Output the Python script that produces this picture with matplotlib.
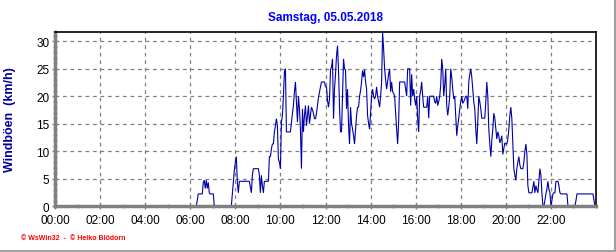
import numpy as np
import matplotlib
matplotlib.use("Agg")
import matplotlib.pyplot as plt
from matplotlib.ticker import MultipleLocator, FixedLocator

# ---- data (wind gusts, km/h), one reading every 160 s starting 00:00 ----
interval_min = 8 / 3

gust_night = [
    0.0, 0.0, 0.0, 0.0, 0.0, 0.0, 0.0, 0.0, 0.0, 0.0, 0.0, 0.0, 0.0, 0.0, 0.0, 0.0, 0.0, 0.0, 0.0, 0.0,
    0.0, 0.0, 0.0, 0.0, 0.0, 0.0, 0.0, 0.0, 0.0, 0.0, 0.0, 0.0, 0.0, 0.0, 0.0, 0.0, 0.0, 0.0, 0.0, 0.0,
    0.0, 0.0, 0.0, 0.0, 0.0, 0.0, 0.0, 0.0, 0.0, 0.0, 0.0, 0.0, 0.0, 0.0, 0.0, 0.0, 0.0, 0.0, 0.0, 0.0,
    0.0, 0.0, 0.0, 0.0, 0.0, 0.0, 0.0, 0.0, 0.0, 0.0, 0.0, 0.0, 0.0, 0.0, 0.0, 0.0, 0.0, 0.0, 0.0, 0.0,
    0.0, 0.0, 0.0, 0.0, 0.0, 0.0, 0.0, 0.0, 0.0, 0.0, 0.0, 0.0, 0.0, 0.0, 0.0, 0.0, 0.0, 0.0, 0.0, 0.0,
    0.0, 0.0, 0.0, 0.0, 0.0, 0.0, 0.0, 0.0, 0.0, 0.0, 0.0, 0.0, 0.0, 0.0, 0.0, 0.0, 0.0, 0.0, 0.0, 0.0,
    0.0, 0.0, 0.0, 0.0, 0.0, 0.0, 0.0, 0.0, 0.0, 0.0, 0.0, 0.0, 0.0, 0.0, 0.0, 0.0, 0.0, 0.0, 0.0, 0.0,
    0.0, 0.0,
]

gust_morning = [
    1.0, 2.2, 2.2, 2.2, 2.2, 2.2, 4.3, 4.7, 3.2, 4.7, 3.2, 4.3, 2.4, 2.2, 2.2, 2.2, 2.2,
    0.0, 0.0, 0.0, 0.0, 0.0, 0.0, 0.0, 0.0, 0.0, 0.0, 0.0, 0.0, 0.0, 0.0, 0.0, 0.0, 0.0, 0.0,
    2.2, 4.5, 6.5, 8.0, 9.0, 4.3, 2.4, 4.5,
    4.5, 4.5, 4.5, 4.5, 4.5, 4.5, 4.5, 4.5, 4.5, 4.5,
    3.5, 2.4, 5.6, 6.8, 6.8, 6.8, 6.8, 6.8, 6.8,
    5.6, 2.4, 5.6, 3.7, 2.4, 4.5, 4.5, 4.5, 4.5, 4.5,
    9.0, 9.0, 10.4, 11.3, 11.3, 13.5, 14.6, 15.9, 14.6, 8.5, 8.0, 6.8,
    15.3, 16.5, 20.0, 24.4, 25.0, 13.5, 13.5, 13.5, 13.5, 13.5,
    15.3, 16.9, 18.3, 20.8, 22.6, 19.0, 15.3, 20.0, 17.7, 14.0, 6.8, 17.7,
    13.5, 16.5, 18.3, 14.6, 16.5, 18.3, 15.0, 16.5, 18.0, 17.5, 16.9, 15.9,
    15.9, 16.9, 18.3, 19.8, 20.8, 21.7, 22.6, 22.6, 22.6, 22.6, 21.7, 21.7,
]

gust_midday = [
    19.2, 18.0, 19.5, 24.8, 25.3, 26.8, 15.9, 21.3, 24.0, 27.4, 29.2, 24.8,
    18.0, 13.5, 13.5, 20.1, 26.8, 25.0, 24.8, 17.7, 21.3, 14.6, 11.3, 18.0,
    15.0, 14.0, 12.8, 11.3, 14.0, 16.5, 18.0, 18.0, 20.0, 21.0, 22.6, 24.7,
    23.5, 24.8, 22.6, 21.3, 16.5, 15.0, 14.0, 17.0, 20.0, 21.3, 20.0, 19.5,
    20.0, 21.7, 20.0, 19.0, 18.0, 20.0, 22.6, 31.6, 28.6, 25.0, 23.0, 21.3,
    22.6, 24.0, 25.0, 20.8, 22.6, 20.8, 20.5, 20.0, 16.9, 14.0, 11.3, 15.3,
    22.6, 22.6, 22.6, 22.6, 22.6, 22.6, 21.3, 20.0, 25.0, 25.0, 25.0, 18.3,
    24.0, 20.0, 21.3, 19.5, 18.3, 20.0, 15.9, 13.5, 20.0, 21.0, 22.6, 20.0,
    18.0, 18.0, 18.0, 18.0, 20.0, 16.0, 20.0, 20.0, 20.0, 20.0, 20.0, 19.0,
    18.7, 20.0, 18.3, 19.0, 20.0, 22.0, 26.8, 25.0, 20.0, 22.0, 25.0, 18.3,
    16.5, 18.0, 20.0, 25.0, 23.5, 21.3, 19.5, 20.0, 16.5, 12.8, 14.6, 16.0,
    17.7, 19.0, 20.0, 18.7, 19.0, 19.5, 20.0, 20.0, 17.7, 22.6, 24.0, 25.0,
    23.5, 21.3, 19.0, 17.7, 14.0, 11.3, 15.3, 20.0, 19.0, 17.7, 16.0, 16.0,
    16.0, 16.0, 19.0, 22.6, 20.0, 14.0, 11.3, 9.0, 12.0, 14.0, 16.9, 16.0,
    14.0, 12.2, 13.5, 12.8, 11.5, 12.0, 12.8, 9.4, 10.5, 11.5, 11.3, 11.3,
    12.2, 14.0, 16.5, 18.0, 15.9, 11.5,
]

gust_evening = [
    6.8, 5.6, 4.7, 6.8, 8.0, 9.0, 7.5, 6.8, 6.8, 6.8, 8.0, 10.0, 11.3, 9.5,
    3.7, 2.4, 2.4, 2.4, 2.4, 3.5, 4.5, 2.4, 3.7, 3.0, 2.4, 4.5, 6.8, 5.6, 2.4,
    0.0, 0.0, 1.0, 2.2, 3.1, 4.5, 3.0, 2.4, 0.0, 1.0, 2.2, 2.4, 2.4,
    4.5, 4.5, 4.5, 3.7, 2.4, 2.2, 2.2, 2.2, 2.2, 2.2, 2.2, 2.2,
    0.0, 0.0, 0.0, 0.0, 0.0, 0.0, 0.0, 0.0, 1.0,
    2.2, 2.2, 2.2, 2.2, 2.2, 2.2, 2.2, 2.2, 2.2, 2.2, 2.2, 2.2, 2.2, 2.2, 2.2, 2.2, 2.2,
    1.0, 0.0,
]

x_tick_labels = ["00:00", "02:00", "04:00", "06:00", "08:00", "10:00",
                 "12:00", "14:00", "16:00", "18:00", "20:00", "22:00"]
y_ticks = [0, 5, 10, 15, 20, 25, 30]

title_text = "Samstag, 05.05.2018"
ylabel_text = "Windböen  (km/h)"
footer_text = "© WsWin32  -  © Heiko Blödorn"

# ---- build series ----
gust = np.array(gust_night + gust_morning + gust_midday + gust_evening)
minutes = np.arange(len(gust)) * interval_min

plt.rcParams['font.family'] = ['Liberation Sans', 'DejaVu Sans']

fig = plt.figure(figsize=(6.16, 2.53), dpi=100)
fig.patch.set_facecolor("white")
ax = fig.add_axes([55 / 616, 1 - 207 / 253, (596 - 55) / 616, (207 - 33) / 253])

ax.plot(minutes, gust, color="#0000A8", lw=0.8, solid_joinstyle="miter")

ax.set_xlim(0, 1440)
ax.set_ylim(0, 31.7)

ax.xaxis.set_major_locator(FixedLocator(np.arange(len(x_tick_labels)) * 120))
ax.set_xticklabels(x_tick_labels)
ax.xaxis.set_minor_locator(MultipleLocator(60))
ax.set_yticks(y_ticks)
ax.yaxis.set_minor_locator(MultipleLocator(1))

ax.grid(True, which="major", color="#808080", linestyle=(0, (3, 3)), linewidth=0.9)
ax.set_axisbelow(True)

for side in ("top", "right"):
    ax.spines[side].set_color("black")
    ax.spines[side].set_linewidth(1.2)
for side in ("left", "bottom"):
    ax.spines[side].set_color("#808080")
    ax.spines[side].set_linewidth(2.5)

ax.tick_params(axis="both", which="major", labelsize=8.5, colors="black",
               length=4, width=1, direction="inout", pad=2)
ax.tick_params(axis="both", which="major", color="#808080")
ax.tick_params(axis="both", which="minor", length=3, width=1,
               direction="inout", color="#808080")
ax.tick_params(axis="x", which="major", pad=4)

ax.set_ylabel(ylabel_text, color="#0000A0", fontsize=9, fontweight="bold", labelpad=10)
ax.yaxis.set_label_coords(-0.072, 0.5)

fig.text(325 / 616, 1 - 18 / 253, title_text, color="#0000FF", fontsize=8.5,
         fontweight="bold", ha="center", va="center")
fig.text(21 / 616, 1 - 239 / 253, footer_text, color="#FF0000", fontsize=5,
         ha="left", va="center", fontweight="bold")

# thin gray frame lines at bottom and right edge of the picture
fig.add_artist(plt.Line2D([0, 1], [1.5 / 253, 1.5 / 253], color="#A0A0A0", lw=1.5,
                          transform=fig.transFigure))
fig.add_artist(plt.Line2D([1 - 1.5 / 616, 1 - 1.5 / 616], [0, 1], color="#A0A0A0", lw=1.5,
                          transform=fig.transFigure))

fig.savefig("out.png", dpi=100)
